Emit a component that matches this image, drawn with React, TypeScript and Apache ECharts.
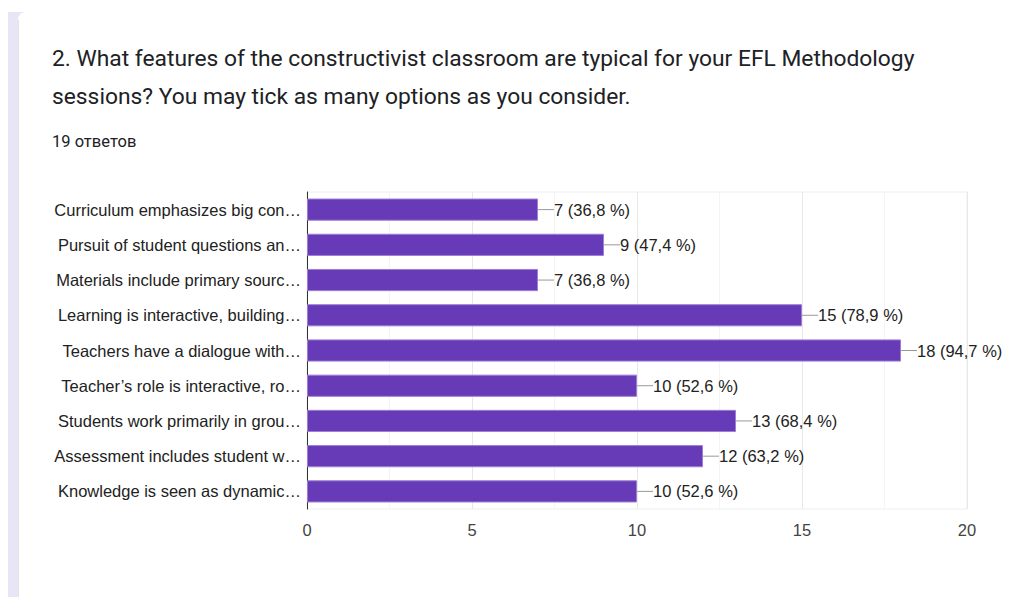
import React, { useEffect, useRef } from "react";
import * as echarts from "echarts";

const categories = [
  "Curriculum emphasizes big con…",
  "Pursuit of student questions an…",
  "Materials include primary sourc…",
  "Learning is interactive, building…",
  "Teachers have a dialogue with…",
  "Teacher’s role is interactive, ro…",
  "Students work primarily in grou…",
  "Assessment includes student w…",
  "Knowledge is seen as dynamic…",
];
const counts = [7, 9, 7, 15, 18, 10, 13, 12, 10];
const percents = ["36,8", "47,4", "36,8", "78,9", "94,7", "52,6", "68,4", "63,2", "52,6"];
const xTicks = { min: 0, max: 20, interval: 5 };
const titleLines = [
  "2. What features of the constructivist classroom are typical for your EFL Methodology",
  "sessions? You may tick as many options as you consider.",
];
const responses = "19 ответов";

export default function App() {
  const ref = useRef<HTMLDivElement>(null);
  useEffect(() => {
    if (!ref.current) return;
    const chart = echarts.init(ref.current, undefined, { renderer: "svg" });
    const font = "'Liberation Sans', Arial, sans-serif";
    chart.setOption({
      animation: false,
      backgroundColor: "#ffffff",
      graphic: [
        { type: "rect", shape: { x: 8, y: 12, width: 20, height: 600 }, style: { fill: "#e8e5f6" }, z: -10 },
        { type: "rect", shape: { x: 18, y: 12, width: 1010, height: 600, r: [8, 0, 0, 0] }, style: { fill: "#ffffff" }, z: -9 },
        { type: "line", shape: { x1: 18.5, y1: 20, x2: 18.5, y2: 597 }, style: { stroke: "#e2e2e2", lineWidth: 1 }, z: -8 },
        { type: "text", left: 52, top: 47, style: { text: titleLines[0], fontFamily: "Roboto, sans-serif", fontSize: 22.8, fill: "#202124" } },
        { type: "text", left: 52, top: 85, style: { text: titleLines[1], fontFamily: "Roboto, sans-serif", fontSize: 22.8, fill: "#202124" } },
        { type: "text", left: 52, top: 133, style: { text: responses, fontFamily: "Roboto, sans-serif", fontSize: 16.5, fill: "#202124" } },
      ],
      grid: { left: 307, right: 52, top: 192, bottom: 88, show: true, borderColor: "#eeeeee", borderWidth: 1 },
      xAxis: {
        type: "value",
        min: xTicks.min,
        max: xTicks.max,
        interval: xTicks.interval,
        axisLine: { show: false },
        axisTick: { show: false },
        axisLabel: { color: "#444444", fontSize: 16.5, fontFamily: font, margin: 12 },
        splitLine: { show: true, lineStyle: { color: "#e8e8e8" } },
        minorTick: { show: false, splitNumber: 2 },
        minorSplitLine: { show: true, lineStyle: { color: "#f4f4f4" } },
      },
      yAxis: {
        type: "category",
        inverse: true,
        data: categories,
        axisLine: { show: true, lineStyle: { color: "#333333", width: 1 } },
        axisTick: { show: false },
        axisLabel: { color: "#222222", fontSize: 16.5, fontFamily: font, margin: 6 },
      },
      series: [
        {
          type: "bar",
          data: counts,
          barCategoryGap: "37%",
          itemStyle: { color: "#673ab7", borderColor: "#9c7fd4", borderWidth: 1 },
          label: {
            show: true,
            position: "right",
            distance: 0,
            formatter: (p: any) => `{ln|}{v|${counts[p.dataIndex]} (${percents[p.dataIndex]} %)}`,
            rich: {
              ln: { width: 16, height: 1, backgroundColor: "#999999" },
              v: { color: "#222222", fontSize: 16.5, fontFamily: font },
            },
          },
        },
      ],
    });
    return () => chart.dispose();
  }, []);
  return <div ref={ref} style={{ position: "absolute", left: 0, top: 0, width: 1019, height: 597 }} />;
}
